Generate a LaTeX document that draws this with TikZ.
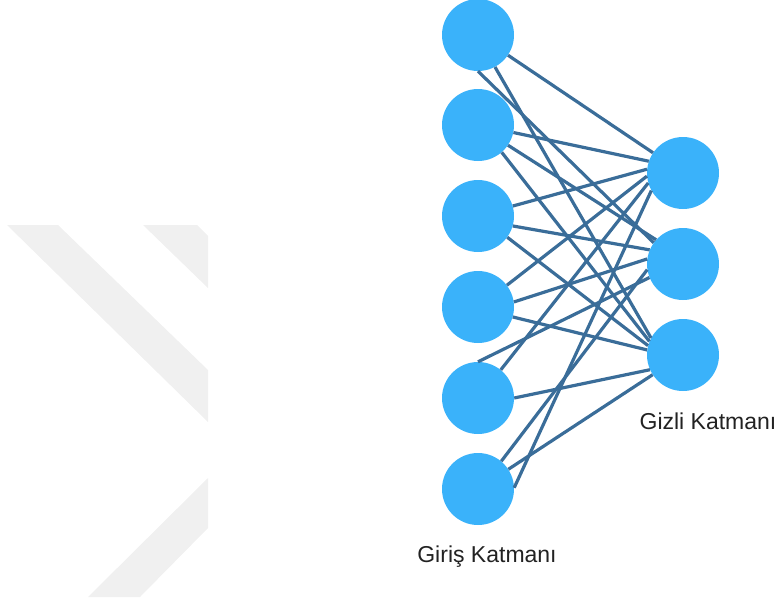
\documentclass[tikz,border=0pt]{standalone}
\usepackage{fontspec}
\setmainfont{Liberation Sans}
\definecolor{nodeblue}{HTML}{3AB2FA}
\definecolor{linkblue}{HTML}{3A6D99}
\definecolor{wmgray}{HTML}{F0F0F0}
\definecolor{labelgray}{HTML}{222222}
\begin{document}
\begin{tikzpicture}[x=1pt,y=-1pt,
  neuron/.style={circle,fill=nodeblue,minimum size=72pt,inner sep=0pt},
  link/.style={draw=linkblue,line width=3.2pt},
  layerlabel/.style={text=labelgray,font=\fontsize{23}{27}\selectfont,inner sep=0pt}]
\useasboundingbox (0,0) rectangle (779,602);
% watermark
\fill[wmgray] (7,225) -- (58,225) -- (208,370) -- (208,422) -- cycle;
\fill[wmgray] (143,225) -- (197,225) -- (208,236) -- (208,288) -- cycle;
\fill[wmgray] (88,597) -- (140,597) -- (208,528) -- (208,478) -- cycle;
% nodes
\node[neuron] (i1) at (478,35) {};
\node[neuron] (i2) at (478,125) {};
\node[neuron] (i3) at (478,216) {};
\node[neuron] (i4) at (478,307) {};
\node[neuron] (i5) at (478,398) {};
\node[neuron] (i6) at (478,489) {};
\node[neuron] (h1) at (683,173) {};
\node[neuron] (h2) at (683,264) {};
\node[neuron] (h3) at (683,355) {};
% links
\draw[link] (i1.-34) -- (h1.146);
\draw[link] (i1.-90) -- (h2.144);
\draw[link] (i1.-62) -- (h3.152);
\draw[link] (i2.-12) -- (h1.161);
\draw[link] (i2.-34) -- (h2.138);
\draw[link] (i2.-49) -- (h3.158);
\draw[link] (i3.16) -- (h1.174);
\draw[link] (i3.-16) -- (h2.157);
\draw[link] (i3.-36) -- (h3.165);
\draw[link] (i4.37) -- (h1.185);
\draw[link] (i4.8) -- (h2.172);
\draw[link] (i4.-16) -- (h3.172);
\draw[link] (i5.51) -- (h1.196);
\draw[link] (i5.90) -- (h2.202);
\draw[link] (i5.0) -- (h3.204);
\draw[link] (i6.2) -- (h1.209);
\draw[link] (i6.50) -- (h2.189);
\draw[link] (i6.33) -- (h3.213);
% labels
\node[layerlabel] (lin) at (487,557) {Giriş Katmanı};
\node[layerlabel] (lhid) at (708,421) {Gizli Katmanı};
\end{tikzpicture}
\end{document}
